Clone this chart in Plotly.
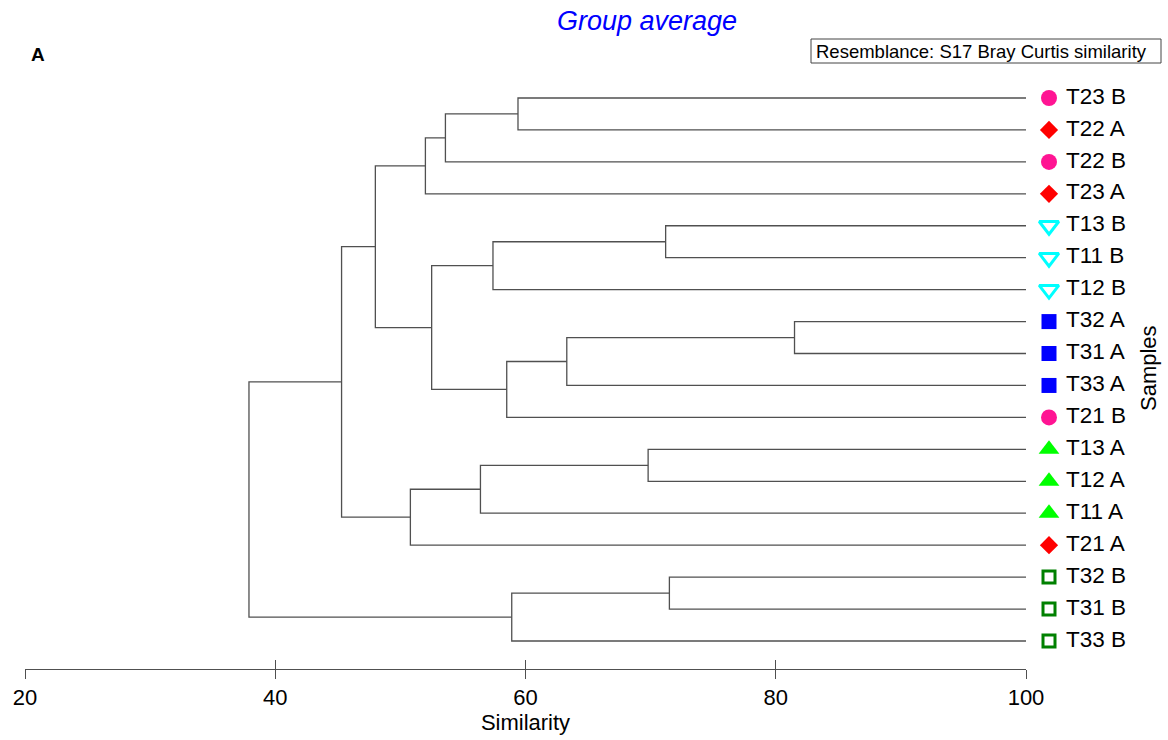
import plotly.graph_objects as go

# Samples in dendrogram order (top to bottom) and their treatment group
leaf_labels = ["T23 B", "T22 A", "T22 B", "T23 A", "T13 B", "T11 B", "T12 B",
               "T32 A", "T31 A", "T33 A", "T21 B", "T13 A", "T12 A", "T11 A",
               "T21 A", "T32 B", "T31 B", "T33 B"]
leaf_groups = ["T2 B", "T2 A", "T2 B", "T2 A", "T1 B", "T1 B", "T1 B",
               "T3 A", "T3 A", "T3 A", "T2 B", "T1 A", "T1 A", "T1 A",
               "T2 A", "T3 B", "T3 B", "T3 B"]

# Group-average linkage: indices < 18 are leaves, 18 + k is the k-th merge
merge_left = [0, 18, 19, 4, 21, 7, 23, 24, 22, 20, 11, 28, 29, 27, 15, 32, 31]
merge_right = [1, 2, 3, 5, 6, 8, 9, 10, 25, 26, 12, 13, 14, 30, 16, 17, 33]
merge_similarity = [59.4, 53.6, 52.0, 71.2, 57.4, 81.5, 63.3, 58.5, 52.5,
                    48.0, 69.8, 56.4, 50.8, 45.3, 71.5, 58.9, 37.9]

similarity_ticks = [20, 40, 60, 80, 100]

group_style = {
    "T1 A": dict(symbol="triangle-up", size=18, color="#00ff00", line=dict(width=0)),
    "T1 B": dict(symbol="triangle-down-open", size=17, color="#00ffff", line=dict(width=3, color="#00ffff")),
    "T2 A": dict(symbol="diamond", size=14, color="#ff0000", line=dict(width=0)),
    "T2 B": dict(symbol="circle", size=16, color="#ff1493", line=dict(width=0)),
    "T3 A": dict(symbol="square", size=15, color="#0000ff", line=dict(width=0)),
    "T3 B": dict(symbol="square-open", size=12, color="#008000", line=dict(width=3, color="#008000")),
}

LINE = "#505050"
FONT = "Liberation Sans, Arial, sans-serif"

# --- dendrogram geometry ---
n = len(leaf_labels)
node_x = [100.0] * n
node_y = [float(i) for i in range(n)]
seg_x, seg_y = [], []
for a, b, s in zip(merge_left, merge_right, merge_similarity):
    seg_x += [node_x[a], s, s, node_x[b], None]
    seg_y += [node_y[a], node_y[a], node_y[b], node_y[b], None]
    node_x.append(s)
    node_y.append((node_y[a] + node_y[b]) / 2)

# layout geometry (pixels)
W, H = 1168, 740
ML, MR, MT, MB = 25, 0, 0, 71
axis_px = 1001                      # width of the 20..100 similarity axis
plot_w = W - ML - MR
plot_h = H - MT - MB
px_per_unit = axis_px / 80.0
full_max = 20 + plot_w / px_per_unit
leaf_step = 31.94
first_leaf_px = 98
y_top = -first_leaf_px / leaf_step
y_bottom = y_top + plot_h / leaf_step

marker_x = 100 + 23 / px_per_unit
text_x = 100 + 40 / px_per_unit

fig = go.Figure()
fig.add_trace(go.Scatter(
    x=seg_x, y=seg_y, mode="lines", xaxis="x2", yaxis="y",
    line=dict(color=LINE, width=1.3), hoverinfo="skip", showlegend=False))

# companion axis used only to draw the upward half of the ticks
fig.add_trace(go.Scatter(
    x=[20, 100], y=[None, None], mode="lines", xaxis="x3", yaxis="y",
    hoverinfo="skip", showlegend=False))

for g, style in group_style.items():
    idx = [i for i, lg in enumerate(leaf_groups) if lg == g]
    fig.add_trace(go.Scatter(
        x=[marker_x] * len(idx), y=idx, mode="markers", xaxis="x", yaxis="y",
        marker=style, cliponaxis=False, showlegend=False, name=g))

fig.add_trace(go.Scatter(
    x=[text_x] * n, y=list(range(n)), mode="text", text=leaf_labels,
    textposition="middle right", xaxis="x", yaxis="y",
    textfont=dict(family=FONT, size=22.5, color="black"),
    cliponaxis=False, showlegend=False, hoverinfo="skip"))


def paper_x(px):
    return (px - ML) / plot_w


def paper_y(py):
    return 1 - (py - MT) / plot_h


fig.update_layout(
    width=W, height=H, autosize=False,
    margin=dict(l=ML, r=MR, t=MT, b=MB, pad=0, autoexpand=False),
    paper_bgcolor="white", plot_bgcolor="white",
    showlegend=False,
    font=dict(family=FONT, color="black"),
    xaxis=dict(domain=[0, 1], range=[20, full_max], visible=False, anchor="y"),
    xaxis2=dict(
        domain=[0, axis_px / plot_w], range=[20, 100], anchor="y",
        tickmode="array", tickvals=similarity_ticks,
        ticks="outside", ticklen=9, tickwidth=1, tickcolor=LINE,
        showline=True, linecolor=LINE, linewidth=1,
        showgrid=False, zeroline=False,
        tickfont=dict(family=FONT, size=22, color="black"),
        title=dict(text="Similarity", font=dict(family=FONT, size=22, color="black"), standoff=1),
    ),
    xaxis3=dict(
        overlaying="x2", range=[20, 100], anchor="y",
        tickmode="array", tickvals=similarity_ticks,
        ticks="inside", ticklen=9, tickwidth=1, tickcolor=LINE,
        showticklabels=False, showline=False, showgrid=False, zeroline=False,
    ),
    yaxis=dict(domain=[0, 1], range=[y_bottom, y_top], visible=False),
    shapes=[dict(type="rect", xref="paper", yref="paper",
                 x0=paper_x(811), x1=paper_x(1161), y0=paper_y(63), y1=paper_y(39),
                 line=dict(color="#444444", width=1), fillcolor="white")],
    annotations=[
        dict(text="Group average", xref="paper", yref="paper",
             x=paper_x(647), y=paper_y(21), xanchor="center", yanchor="middle",
             showarrow=False,
             font=dict(family=FONT, size=27, color="#0000ff", style="italic")),
        dict(text="<b>A</b>", xref="paper", yref="paper",
             x=paper_x(38), y=paper_y(54), xanchor="center", yanchor="middle",
             showarrow=False, font=dict(family=FONT, size=19, color="black")),
        dict(text="Resemblance: S17 Bray Curtis similarity", xref="paper", yref="paper",
             x=paper_x(814), y=paper_y(51), xanchor="left", yanchor="middle",
             showarrow=False, font=dict(family=FONT, size=18.5, color="black")),
        dict(text="Samples", xref="paper", yref="paper",
             x=paper_x(1148), y=paper_y(368), xanchor="center", yanchor="middle",
             textangle=-90, showarrow=False,
             font=dict(family=FONT, size=22, color="black")),
    ],
)

fig.write_html("out.html", config={"responsive": False})
